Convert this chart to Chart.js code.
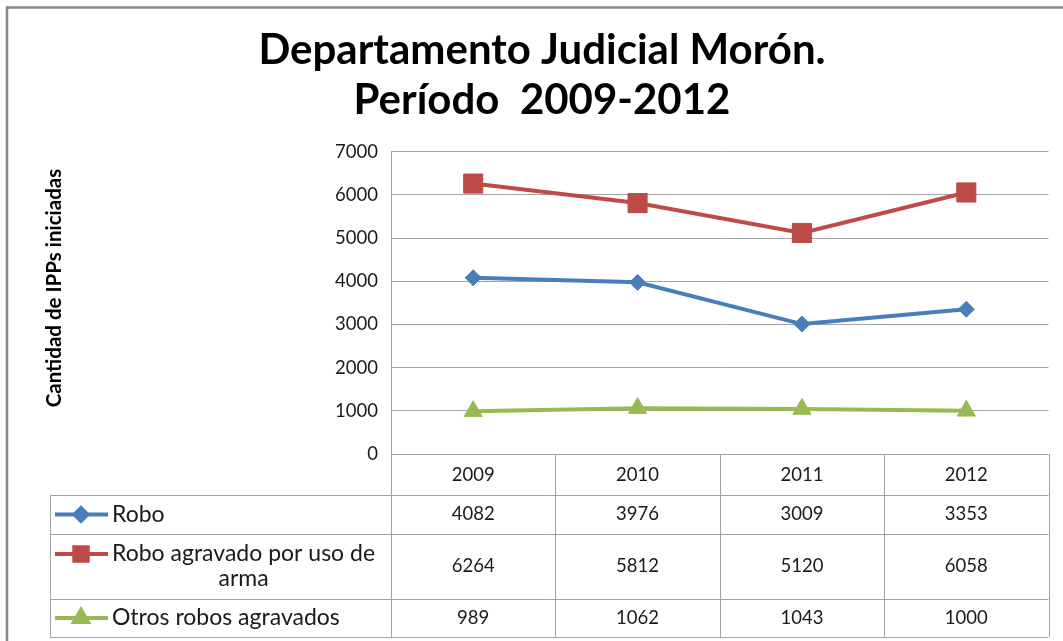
<!DOCTYPE html>
<html lang="es">
<head>
    <meta charset="UTF-8">
    <title>Departamento Judicial Morón. Período 2009-2012</title>
    <script src="https://cdn.jsdelivr.net/npm/chart.js"></script>
    <style>
        body { margin: 0; background: #fff; }
        #chart { display: block; }
    </style>
</head>
<body>

    <canvas id="chart" width="1063" height="641"></canvas>

    <script>
        // Datos: IPPs iniciadas por año
        const years = ['2009', '2010', '2011', '2012'];
        const robo = [4082, 3976, 3009, 3353];
        const roboArma = [6264, 5812, 5120, 6058];
        const otrosRobos = [989, 1062, 1043, 1000];
        const seriesNames = ['Robo', 'Robo agravado por uso de arma', 'Otros robos agravados'];
        const yMin = 0, yMax = 7000, yStep = 1000;

        const FONT = 'Lato, "Open Sans", sans-serif';
        const GRID = '#a3a3a3';

        const colors = ['#4a7ebb', '#be4b48', '#98b954'];
        const styles = [
            { pointStyle: 'rectRot', radius: 8, keyRadius: 6.5 },
            { pointStyle: 'rect', radius: 13.5, keyRadius: 9.5 },
            { pointStyle: 'triangle', radius: 10.5, keyRadius: 8 }
        ];
        const seriesData = [robo, roboArma, otrosRobos];

        // Tabla de datos debajo del gráfico
        const headerH = 41;
        const rowHeights = [39, 65, 38];
        const tableLeft = 50;

        const dataTable = {
            id: 'dataTable',
            beforeDraw(chart) {
                const ctx = chart.ctx;
                ctx.save();
                ctx.fillStyle = '#fff';
                ctx.fillRect(0, 0, chart.width, chart.height);
                // marco exterior
                ctx.strokeStyle = '#888';
                ctx.lineWidth = 2.5;
                ctx.strokeRect(7, 7.5, chart.width + 20, chart.height + 20);
                ctx.restore();
            },
            afterDraw(chart) {
                const ctx = chart.ctx;
                const x = chart.scales.x;
                const area = chart.chartArea;
                const colW = (area.right - area.left) / years.length;
                const top = area.bottom;

                ctx.save();
                ctx.strokeStyle = GRID;
                ctx.lineWidth = 1;

                // filas
                const rowTops = [top + headerH];
                rowHeights.forEach((h, i) => rowTops.push(rowTops[i] + h));
                const bottom = rowTops[rowTops.length - 1];

                ctx.beginPath();
                rowTops.forEach(y => {
                    ctx.moveTo(tableLeft, Math.round(y) + 0.5);
                    ctx.lineTo(area.right, Math.round(y) + 0.5);
                });
                // columnas
                ctx.moveTo(tableLeft + 0.5, rowTops[0]);
                ctx.lineTo(tableLeft + 0.5, bottom);
                for (let i = 0; i <= years.length; i++) {
                    const cx = Math.round(area.left + i * colW) + 0.5;
                    ctx.moveTo(cx, top);
                    ctx.lineTo(cx, bottom);
                }
                ctx.stroke();

                ctx.fillStyle = '#1a1a1a';
                ctx.textAlign = 'center';
                ctx.textBaseline = 'middle';
                const numFont = '18.5px ' + FONT;
                const labelFont = '23px ' + FONT;

                // encabezado con los años
                ctx.font = numFont;
                years.forEach((yr, i) => {
                    ctx.fillText(yr, x.getPixelForValue(i), top + headerH / 2 + 1);
                });

                // valores y leyenda
                seriesData.forEach((vals, s) => {
                    const rTop = rowTops[s];
                    const midY = rTop + rowHeights[s] / 2;
                    ctx.font = numFont;
                    vals.forEach((v, i) => {
                        ctx.fillText(String(v), x.getPixelForValue(i), midY);
                    });

                    // texto de la serie (con salto de línea si no entra)
                    ctx.font = labelFont;
                    const label = seriesNames[s];
                    const textLeft = 112;
                    const maxW = area.left - textLeft - 8;
                    let lines = [label];
                    if (ctx.measureText(label).width > maxW) {
                        const words = label.split(' ');
                        lines = [''];
                        words.forEach(w => {
                            const cur = lines[lines.length - 1];
                            const test = cur ? cur + ' ' + w : w;
                            if (ctx.measureText(test).width > maxW && cur) lines.push(w);
                            else lines[lines.length - 1] = test;
                        });
                    }
                    const lh = 25;
                    const firstY = midY - (lines.length - 1) * lh / 2;
                    const firstW = ctx.measureText(lines[0]).width;
                    lines.forEach((ln, k) => {
                        if (k === 0) {
                            ctx.textAlign = 'left';
                            ctx.fillText(ln, textLeft, firstY);
                        } else {
                            ctx.textAlign = 'center';
                            ctx.fillText(ln, textLeft + firstW / 2, firstY + k * lh);
                        }
                    });
                    ctx.textAlign = 'center';

                    // clave: línea y marcador
                    ctx.save();
                    ctx.strokeStyle = colors[s];
                    ctx.fillStyle = colors[s];
                    ctx.lineWidth = 4;
                    ctx.beginPath();
                    ctx.moveTo(55, firstY);
                    ctx.lineTo(108, firstY);
                    ctx.stroke();
                    Chart.helpers.drawPoint(ctx, {
                        pointStyle: styles[s].pointStyle,
                        radius: styles[s].keyRadius,
                        rotation: 0,
                        borderWidth: 1
                    }, 81, firstY);
                    ctx.restore();
                });

                // título del eje Y
                ctx.translate(54, 288);
                ctx.rotate(-Math.PI / 2);
                ctx.font = 'bold 20.5px ' + FONT;
                ctx.fillStyle = '#000';
                ctx.fillText('Cantidad de IPPs iniciadas', 0, 0);

                ctx.restore();
            }
        };

        new Chart(document.getElementById('chart').getContext('2d'), {
            type: 'line',
            data: {
                labels: years,
                datasets: seriesData.map((vals, s) => ({
                    label: seriesNames[s],
                    data: vals,
                    borderColor: colors[s],
                    backgroundColor: colors[s],
                    borderWidth: 4,
                    pointStyle: styles[s].pointStyle,
                    pointRadius: styles[s].radius,
                    pointHoverRadius: styles[s].radius,
                    pointBorderWidth: 1,
                    tension: 0,
                    fill: false
                }))
            },
            options: {
                responsive: false,
                animation: false,
                devicePixelRatio: 1,
                layout: { padding: { left: 33, right: 12, top: 0, bottom: 187 } },
                plugins: {
                    legend: { display: false },
                    tooltip: { enabled: false },
                    title: {
                        display: true,
                        text: ['Departamento Judicial Morón.', 'Período  2009-2012'],
                        color: '#000',
                        font: { family: FONT, size: 42, weight: 'bold', lineHeight: 1.2 },
                        padding: { top: 25, bottom: 26 }
                    }
                },
                scales: {
                    x: {
                        type: 'category',
                        offset: true,
                        display: false
                    },
                    y: {
                        min: yMin,
                        max: yMax,
                        afterFit(scale) { scale.width = 358; },
                        ticks: {
                            stepSize: yStep,
                            padding: 13,
                            color: '#1a1a1a',
                            font: { family: FONT, size: 18.5 },
                            callback: v => String(v)
                        },
                        grid: { color: GRID, drawTicks: false },
                        border: { color: GRID }
                    }
                }
            },
            plugins: [dataTable]
        });
    </script>

</body>
</html>
